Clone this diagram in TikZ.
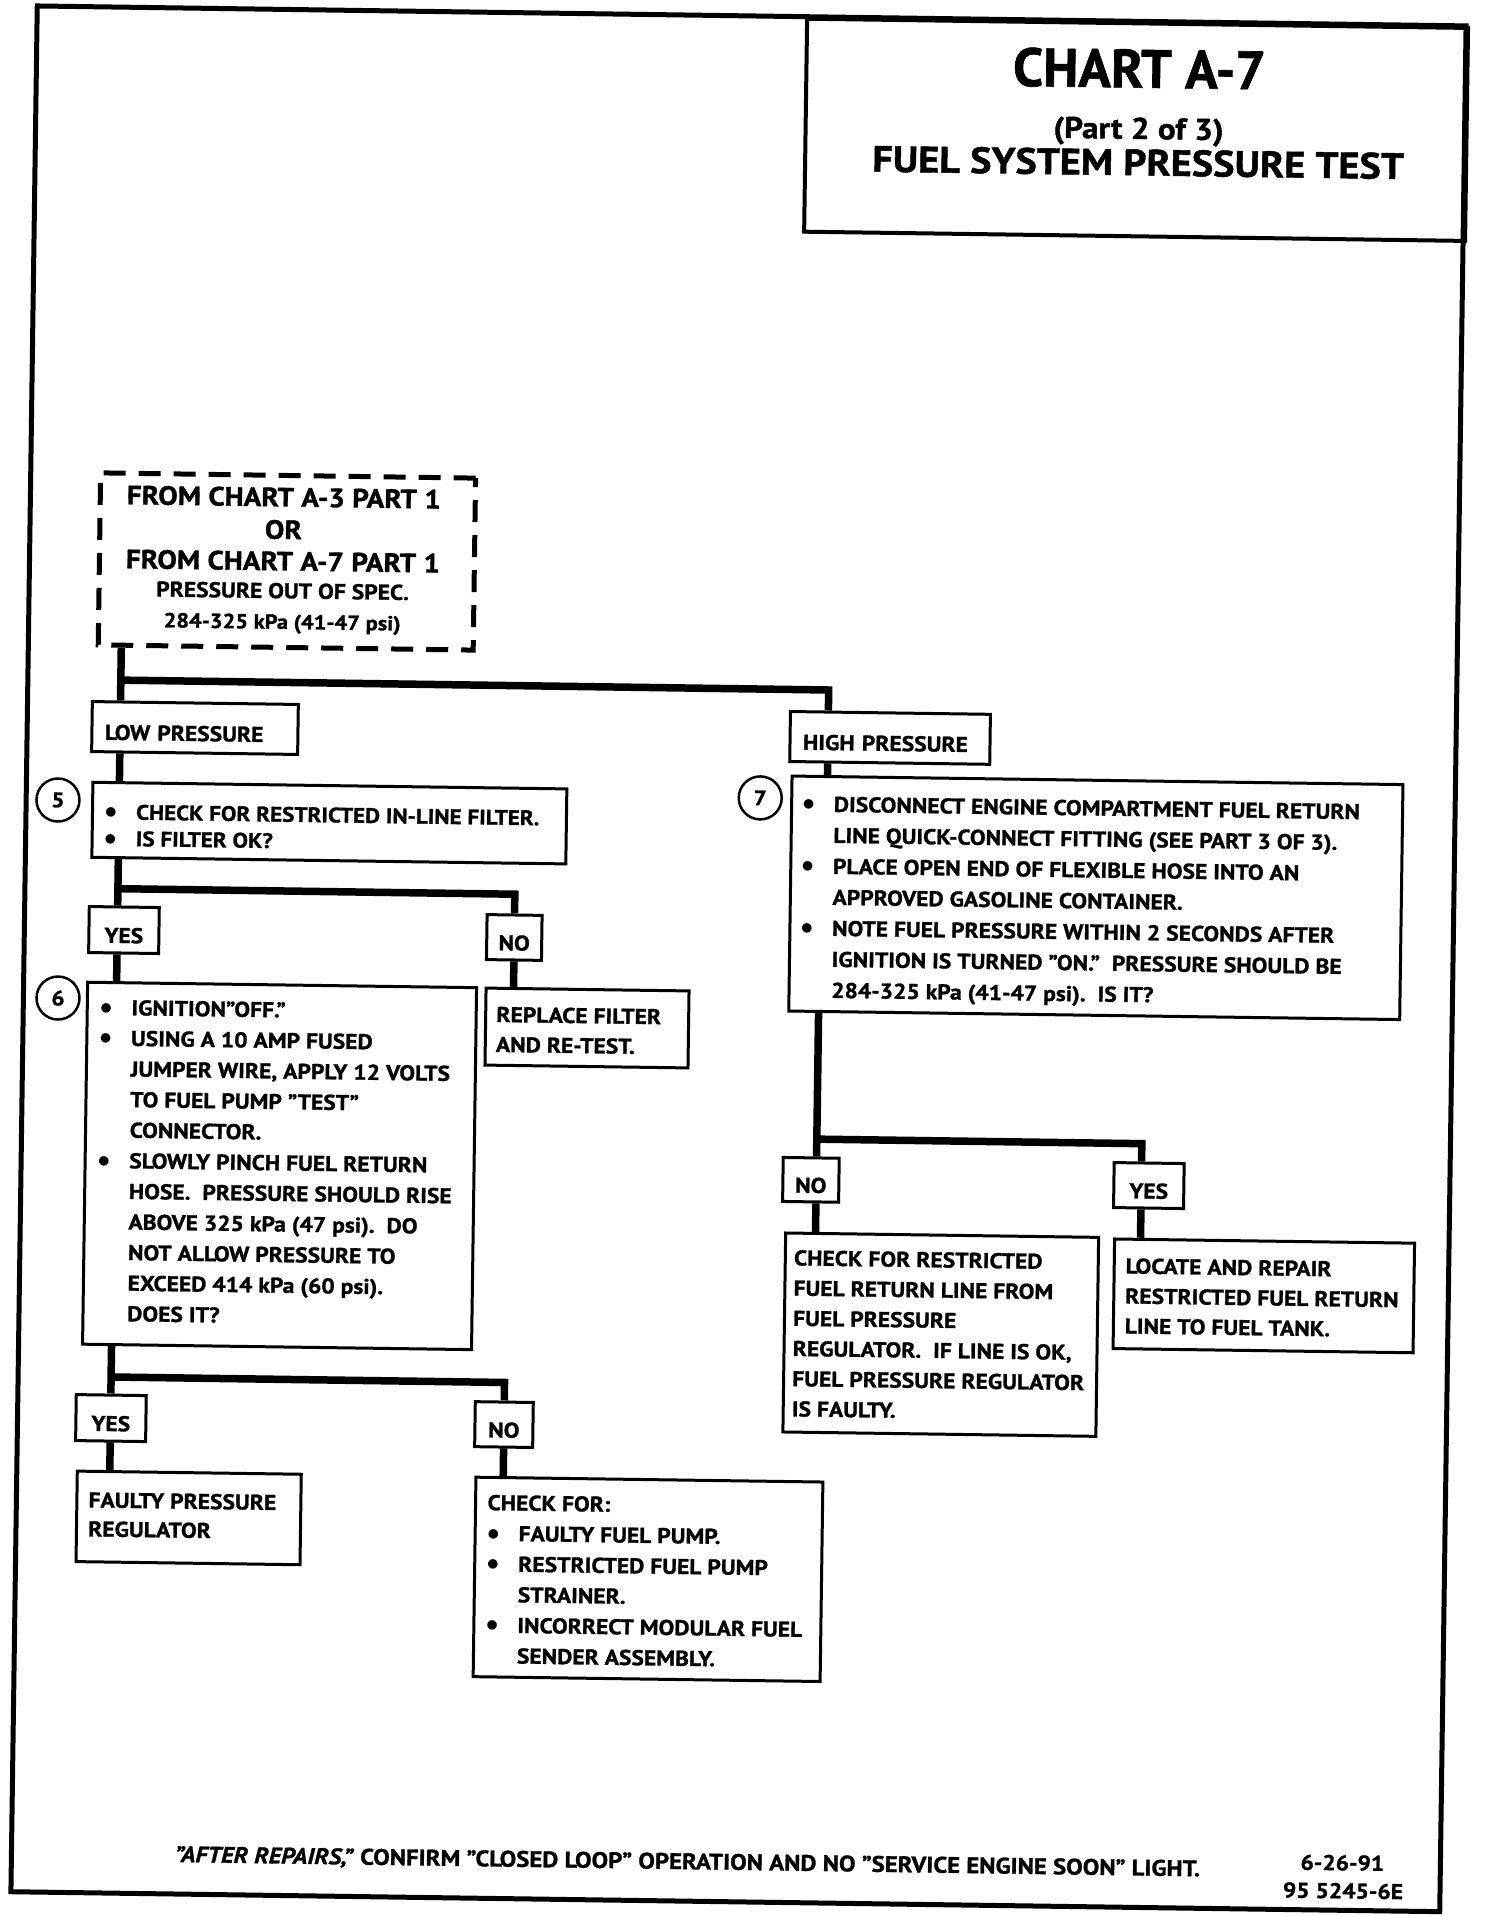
\documentclass[tikz,border=0pt]{standalone}
\usepackage{fontspec}
\setmainfont{PT Sans}[BoldFeatures={FakeStretch=1.1,FakeBold=1.2},BoldItalicFeatures={FakeStretch=1.1,FakeBold=1.2}]
\newfontfamily\titlefont{PT Sans}[BoldFeatures={FakeBold=1.2}]
\usepackage{tikz}

\newcommand{\bodyfont}[1][30.5]{\fontsize{21.4pt}{#1pt}\selectfont\bfseries}
\newcommand{\bul}{\makebox[31.5pt][l]{\raisebox{0.5pt}{\fontsize{26pt}{26pt}\selectfont$\bullet$}}}
\newcommand{\bulind}{\hspace*{31.5pt}}

\begin{document}
\begin{tikzpicture}[x=1pt,y=-1pt,
		box/.style={draw,line width=3pt,anchor=north west,inner sep=0pt},
		txt/.style={anchor=north west,inner sep=0pt,align=left},
		tag/.style={draw,line width=3pt,inner xsep=10pt,inner ysep=0pt,text height=26pt,text depth=0pt,font=\bodyfont},
		head/.style={anchor=base,font=\fontsize{26.5pt}{30pt}\selectfont\bfseries},
		row/.style={anchor=base,font=\bodyfont},
		link/.style={line width=7.5pt},
		num/.style={draw,circle,line width=2.5pt,minimum size=43pt,inner sep=0pt,font=\fontsize{21pt}{24pt}\selectfont\bfseries}]
	\useasboundingbox (0,0) rectangle (1504,1916);
	\begin{scope}[rotate around={-0.8:(752,958)},transform shape]
		\draw[line width=5pt] (24,16) rectangle (1453,1902);
		\node[box,line width=4pt,minimum width=661pt,minimum height=213pt] (title) at (792,16) {};
		\node[anchor=base,inner sep=0pt,font=\titlefont\fontsize{54pt}{60pt}\selectfont\bfseries] (chart) at (1127,82.3) {CHART A-7};
		\node[anchor=base,inner sep=0pt,font=\fontsize{30pt}{34pt}\selectfont\bfseries] (part) at (1127,133.6) {(Part 2 of 3)};
		\node[anchor=base,inner sep=0pt,font=\fontsize{36.7pt}{40pt}\selectfont\bfseries] (name) at (1127,170) {FUEL SYSTEM PRESSURE TEST};

		\node[box,dash pattern=on 22pt off 13pt,line width=5pt,minimum width=375pt,minimum height=172pt] (from) at (91.4,479.5) {};
		\node[head] (from1) at (277.5,513) {FROM CHART A-3 PART 1};
		\node[head] (from2) at (277.5,545.5) {OR};
		\node[head] (from3) at (277.5,577) {FROM CHART A-7 PART 1};
		\node[row,font=\fontsize{21.4pt}{28pt}\selectfont\bfseries] (from4) at (277.5,604.8) {PRESSURE OUT OF SPEC.};
		\node[row,font=\fontsize{20.4pt}{28pt}\selectfont\bfseries] (from5) at (277.5,635.5) {284-325 kPa (41-47 psi)};

		\node[tag,inner xsep=13pt,text width=180pt,align=left,minimum height=50pt] (low) at (191.8,735.8) {LOW PRESSURE};
		\node[tag,inner xsep=13pt,text width=174pt,align=left,minimum height=50pt] (high) at (887,736) {HIGH PRESSURE};

		\node[num] (c5) at (55.8,809.7) {5};
		\node[box,minimum width=474pt,minimum height=75pt] (s5) at (89,790) {};
		\node[txt,font={\fontsize{21pt}{26.5pt}\selectfont\bfseries}] (t5) at (102.5,809.5) {\strut\bul CHECK FOR RESTRICTED IN-LINE FILTER.\\ \bul IS FILTER OK?};

		\node[tag,minimum width=70pt,minimum height=46pt] (yes1) at (123.6,938.8) {YES};
		\node[tag,minimum width=55pt,minimum height=45pt] (no1) at (514,940.8) {NO};

		\node[num] (c6) at (58.6,1007.7) {6};
		\node[box,minimum width=389pt,minimum height=362pt] (s6) at (86.5,990) {};
		\node[txt,font={\bodyfont[30.6]}] (t6) at (100.5,1002.3) {\strut\bul IGNITION"OFF."\\
			\bul USING A 10 AMP FUSED\\
			\bulind JUMPER WIRE, APPLY 12 VOLTS\\
			\bulind TO FUEL PUMP "TEST"\\
			\bulind CONNECTOR.\\
			\bul SLOWLY PINCH FUEL RETURN\\
			\bulind HOSE.\ \ PRESSURE SHOULD RISE\\
			\bulind ABOVE 325 kPa (47 psi).\ \ DO\\
			\bulind NOT ALLOW PRESSURE TO\\
			\bulind EXCEED 414 kPa (60 psi).\\
			\bulind DOES IT?};

		\node[box,minimum width=203pt,minimum height=77pt] (rep) at (485,990.3) {};
		\node[txt,font={\bodyfont[30]}] (trep) at (497,1004.3) {\strut REPLACE FILTER\\ AND RE-TEST.};

		\node[tag,minimum width=70pt,minimum height=46pt] (yes2) at (117.4,1427) {YES};
		\node[tag,minimum width=58pt,minimum height=45pt] (no2) at (510.5,1428) {NO};

		\node[box,minimum width=224pt,minimum height=90.5pt] (fault) at (83,1479) {};
		\node[txt,font={\bodyfont[29]}] (tfault) at (96,1496.1) {\strut FAULTY PRESSURE\\ REGULATOR};

		\node[box,minimum width=347pt,minimum height=199.5pt] (chk) at (481.7,1479.5) {};
		\node[txt,font={\bodyfont[30.6]}] (tchk) at (495,1492.1) {\strut CHECK FOR:\\
			\bul FAULTY FUEL PUMP.\\
			\bul RESTRICTED FUEL PUMP\\
			\bulind STRAINER.\\
			\bul INCORRECT MODULAR FUEL\\
			\bulind SENDER ASSEMBLY.};

		\node[num] (c7) at (758,797.8) {7};
		\node[box,minimum width=611pt,minimum height=235pt] (s7) at (788,774) {};
		\node[txt,font={\bodyfont[31]}] (t7) at (800,788.8) {\strut\bul DISCONNECT ENGINE COMPARTMENT FUEL RETURN\\
			\bulind LINE QUICK-CONNECT FITTING (SEE PART 3 OF 3).\\
			\bul PLACE OPEN END OF FLEXIBLE HOSE INTO AN\\
			\bulind APPROVED GASOLINE CONTAINER.\\
			\bul NOTE FUEL PRESSURE WITHIN 2 SECONDS AFTER\\
			\bulind IGNITION IS TURNED "ON."\ \ PRESSURE SHOULD BE\\
			\bulind 284-325 kPa (41-47 psi).\ \ IS IT?};

		\node[tag,minimum width=56pt,minimum height=44pt] (no3) at (814,1179) {NO};
		\node[tag,minimum width=70pt,minimum height=45pt] (yes3) at (1152,1180) {YES};

		\node[box,minimum width=313pt,minimum height=199pt] (rfl) at (788,1231) {};
		\node[txt,font={\bodyfont[30.2]}] (trfl) at (798,1243.4) {\strut CHECK FOR RESTRICTED\\
			FUEL RETURN LINE FROM\\
			FUEL PRESSURE\\
			REGULATOR.\ \ IF LINE IS OK,\\
			FUEL PRESSURE REGULATOR\\
			IS FAULTY.};

		\node[box,minimum width=300pt,minimum height=109.6pt] (loc) at (1117,1232.4) {};
		\node[txt,font={\bodyfont[30]}] (tloc) at (1129.7,1247) {\strut LOCATE AND REPAIR\\
			RESTRICTED FUEL RETURN\\
			LINE TO FUEL TANK.};

		\node[row,font=\fontsize{22.5pt}{26pt}\selectfont\bfseries] (note) at (700,1870) {\textit{"AFTER REPAIRS,"} CONFIRM "CLOSED LOOP" OPERATION AND NO "SERVICE ENGINE SOON" LIGHT.};
		\node[row] (date) at (1355,1862) {6-26-91};
		\node[row] (code) at (1356,1890) {95 5245-6E};

		\coordinate (xa) at (117,0);
		\coordinate (xh) at (825,0);
		\coordinate (xr) at (819.4,0);
		\coordinate (xy) at (1144.5,0);
		\coordinate (bus1) at (117,689);
		\coordinate (bus2) at (117,897.6);
		\coordinate (bus3) at (117,1386);
		\coordinate (bus4) at (819.4,1138.3);

		\draw[link] (xa |- from.south) -- (xa |- low.north);
		\draw[link] (bus1) -| (xh |- high.north);
		\draw[link] (xa |- low.south) -- (xa |- s5.north);
		\draw[link] (xa |- s5.south) -- (xa |- yes1.north);
		\draw[link] (bus2) -| (no1.north);
		\draw[link] (xa |- yes1.south) -- (xa |- s6.north);
		\draw[link] (no1.south) -- (no1.south |- rep.north);
		\draw[link] (xa |- s6.south) -- (xa |- yes2.north);
		\draw[link] (bus3) -| (no2.north);
		\draw[link] (xa |- yes2.south) -- (xa |- fault.north);
		\draw[link] (no2.south) -- (no2.south |- chk.north);
		\draw[link] (xh |- high.south) -- (xh |- s7.north);
		\draw[link] (xr |- s7.south) -- (xr |- no3.north);
		\draw[link] (bus4) -| (xy |- yes3.north);
		\draw[link] (xr |- no3.south) -- (xr |- rfl.north);
		\draw[link] (xy |- yes3.south) -- (xy |- loc.north);
	\end{scope}
\end{tikzpicture}
\end{document}
